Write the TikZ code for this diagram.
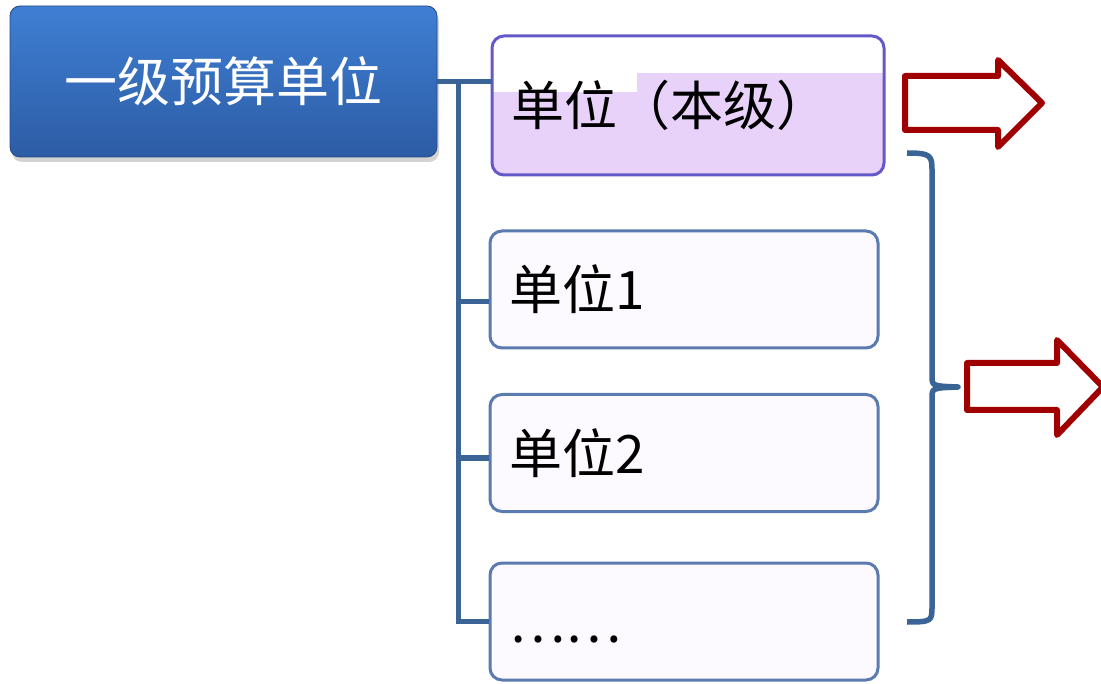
\documentclass[tikz,border=0pt]{standalone}
\usepackage{fontspec}
\newfontfamily\cjk{Noto Sans CJK SC}
\usetikzlibrary{calc,shadows,backgrounds}
\definecolor{topblue}{HTML}{3F7FD3}
\definecolor{botblue}{HTML}{2C5CA5}
\definecolor{treeline}{HTML}{3A6496}
\definecolor{boxline}{HTML}{5A7AB0}
\definecolor{boxfill}{HTML}{FCFAFE}
\definecolor{selfline}{HTML}{6558C8}
\definecolor{selffill}{HTML}{E8D2FA}
\definecolor{arrowred}{HTML}{A00000}

\begin{document}
\begin{tikzpicture}[x=1pt,y=-1pt]
\tikzset{unit/.style = {shape=rectangle,rounded corners=12pt,draw=boxline,fill=boxfill,line width=3pt,
  minimum height=117pt,text width=350pt,align=left,inner xsep=19pt,font={\cjk\fontsize{53}{60}\selectfont}}}
\tikzset{tree/.style = {draw=treeline,line width=5.5pt}}
\tikzset{bigarrow/.style = {draw=arrowred,fill=white,line width=6pt,line join=round}}

\useasboundingbox (0,0) rectangle (1101,684);

%vertices
\node[shape=rectangle,rounded corners=10pt,top color=topblue,bottom color=botblue,draw=botblue!80!black,
  line width=0.8pt,drop shadow={shadow xshift=2pt,shadow yshift=-5pt,opacity=.35},
  minimum width=427pt,minimum height=151pt,text=white,font={\cjk\fontsize{53}{60}\selectfont}]
  (blue) at (223.5,81.5) {一级预算单位};
\node[unit,draw=selfline,fill=none,outer sep=0pt,text width=354pt,minimum height=139pt]
  (u0) at (688,105.5) {单位（本级）};
\node[unit] (u1) at (684,289.5) {单位1};
\node[unit] (u2) at (684,453) {单位2};
\node[unit] (u3) at (684,621.5) {\raisebox{-21pt}[0pt][0pt]{……}};

% lilac fill with the white band at its top
\begin{scope}[on background layer]
\clip[rounded corners=12pt] (u0.north west) rectangle (u0.south east);
\fill[selffill] (u0.north west) rectangle (u0.south east);
\fill[white] (u0.north west) rectangle ($(u0.north east)+(0,37)$);
\fill[white] (u0.north west) rectangle ($(u0.north west)+(145,56)$);
\end{scope}

%edges
\coordinate (trunk) at ($(blue.east)+(21,0)$);
\draw[tree] (blue.east) -- (blue.east -| u0.west);
\draw[tree] (trunk) |- (u3.west);
\draw[tree] ([yshift=-12pt]u1.west) -| (trunk);
\draw[tree] ([yshift=-5pt]u2.west) -| (trunk);

%bracket
\draw[tree,line join=round] (907,153) .. controls (932,153) and (932,156) .. (932,172) -- (932,376)
  .. controls (932,386) .. (958,387) .. controls (932,388) .. (932,398) -- (932,606)
  .. controls (932,621) and (932,622) .. (907,622);

%arrows
\draw[bigarrow] (905,76) -- (998,76) -- (998,60) -- (1042,103) -- (998,147) -- (998,130) -- (905,130) -- cycle;
\draw[bigarrow] (967,363) -- (1057,363) -- (1057,340) -- (1103,387) -- (1057,435) -- (1057,410) -- (967,410) -- cycle;

\end{tikzpicture}
\end{document}
